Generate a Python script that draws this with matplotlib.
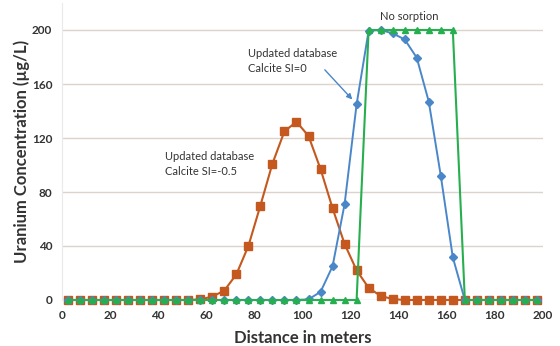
import matplotlib.pyplot as plt
import numpy as np

# Cell-centre distances (m)
distance = np.arange(2.5, 200, 5.0)

# Updated database, Calcite SI=-0.5
conc_si_m05 = [0, 0, 0, 0, 0, 0, 0, 0, 0, 0, 0, 0.5, 2.5, 7, 19, 40, 70, 101,
               125, 132, 121.5, 97, 68, 41.5, 22, 9, 3, 0.7, 0, 0,
               0, 0, 0, 0, 0, 0, 0, 0, 0, 0]

# Updated database, Calcite SI=0
conc_si_0 = [0, 0, 0, 0, 0, 0, 0, 0, 0, 0, 0, 0, 0, 0, 0, 0, 0, 0,
             0, 0, 0.5, 6, 25, 71, 145, 199.5, 200, 197.5, 193, 179.5,
             147, 92, 31.6, 0, 0, 0, 0, 0, 0, 0]

# No sorption
conc_nosorp = [0] * 25 + [200] * 8 + [0] * 7

ORANGE = "#C4581F"
BLUE = "#4A87C9"
GREEN = "#27AE4F"
GRID = "#DDD3CD"
TEXT = "#333333"

plt.rcParams["font.family"] = ["Lato", "DejaVu Sans"]

fig = plt.figure(figsize=(5.6, 3.46), dpi=100)
fig.subplots_adjust(left=62 / 560, right=543 / 560, bottom=1 - 300 / 346, top=1 - 3 / 346)
ax = fig.add_subplot(111)

ax.plot(distance, conc_si_m05, color=ORANGE, lw=1.5, marker="s", ms=5.5, zorder=3, clip_on=False)
ax.plot(distance, conc_si_0, color=BLUE, lw=1.4, marker="D", ms=4, zorder=4, clip_on=False)
ax.plot(distance, conc_nosorp, color=GREEN, lw=1.5, marker="^", ms=5, zorder=5, clip_on=False)

ax.set_xlim(0, 200)
ax.set_ylim(0, 220)
ax.set_xticks(np.arange(0, 201, 20))
ax.set_yticks(np.arange(0, 201, 40))
ax.tick_params(length=0, labelsize=8.5, colors=TEXT, pad=7)
for lbl in ax.get_xticklabels() + ax.get_yticklabels():
    lbl.set_fontweight("bold")
ax.grid(axis="y", color=GRID, lw=1)
ax.set_axisbelow(True)
for side in ["top", "right", "bottom"]:
    ax.spines[side].set_visible(False)
ax.spines["left"].set_color("#EAEAEA")

ax.set_xlabel("Distance in meters", fontsize=12, fontweight="bold", color=TEXT, labelpad=7)
ax.set_ylabel("Uranium Concentration (µg/L)", fontsize=12, fontweight="bold", color=TEXT, labelpad=1)

ax.text(43, 101, "Updated database\nCalcite SI=-0.5", fontsize=8, color=TEXT,
        va="center", ha="left", linespacing=1.45)
ax.text(77.5, 177, "Updated database\nCalcite SI=0", fontsize=8, color=TEXT,
        va="center", ha="left", linespacing=1.45)
ax.annotate("", xy=(121.5, 147), xytext=(108.5, 172),
            arrowprops=dict(arrowstyle="-|>", color=BLUE, lw=1, mutation_scale=8))
ax.text(144.5, 210, "No sorption", fontsize=8, color=TEXT, ha="center", va="center")

fig.savefig("out.png", dpi=100)
